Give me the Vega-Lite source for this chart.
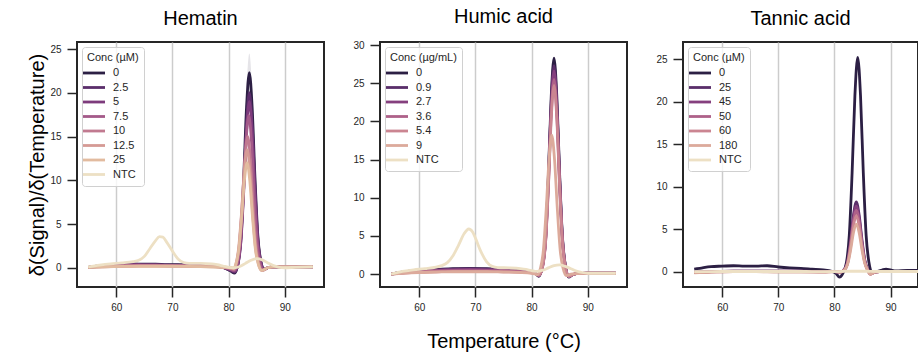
{
  "$schema": "https://vega.github.io/schema/vega-lite/v6.json",
  "padding": {"left": 26, "top": 6, "right": 0, "bottom": 0},
  "background": "white",
  "config": {
    "font": "Liberation Sans",
    "view": {"stroke": "#262626", "strokeWidth": 2},
    "axis": {"domain": false, "tickColor": "#262626", "tickWidth": 1.5, "tickSize": 10, "labelFontSize": 10, "labelColor": "#262626", "titleFontSize": 20, "titleFontWeight": "normal", "titleColor": "#000000", "grid": false},
    "axisX": {"grid": true, "gridColor": "#cccccc", "gridWidth": 1.5, "labelPadding": 5},
    "axisY": {"labelPadding": 6},
    "legend": {"orient": "top-left", "offset": 5, "fillColor": "rgba(255,255,255,0.8)", "strokeColor": "#d0d0d0", "cornerRadius": 3, "padding": 5, "titleFontSize": 11, "titleFontWeight": "normal", "titleColor": "#262626", "labelFontSize": 11, "labelColor": "#262626", "symbolType": "M-2,0H2", "symbolSize": 121, "symbolStrokeWidth": 3, "rowPadding": 1.5, "labelOffset": 12, "titlePadding": 3},
    "title": {"fontSize": 20, "fontWeight": "normal", "color": "#000000", "offset": 13, "anchor": "middle"},
    "line": {"strokeWidth": 2.8, "interpolate": "monotone"}
  },
  "datasets": {
    "hb": [
      {"t":81.7,"lo":0.4,"hi":0.9},{"t":82.2,"lo":3.0,"hi":4.2},{"t":82.7,"lo":9.0,"hi":11.6},{"t":83.2,"lo":16.3,"hi":20.3},{"t":83.7,"lo":20.1,"hi":24.5},{"t":84.2,"lo":16.3,"hi":20.3},{"t":84.7,"lo":9.0,"hi":11.6},{"t":85.2,"lo":3.2,"hi":4.4},{"t":85.7,"lo":0.5,"hi":1.3},{"t":86.3,"lo":-0.5,"hi":0.1}
    ],
    "h": [
      {"c":"0","t":55,"v":0.05},{"c":"0","t":57,"v":0.2},{"c":"0","t":59,"v":0.3},{"c":"0","t":61,"v":0.35},{"c":"0","t":63,"v":0.45},{"c":"0","t":65,"v":0.4},{"c":"0","t":67,"v":0.4},{"c":"0","t":69,"v":0.35},{"c":"0","t":71,"v":0.35},{"c":"0","t":73,"v":0.3},{"c":"0","t":75,"v":0.3},{"c":"0","t":77,"v":0.25},{"c":"0","t":79,"v":0.05},{"c":"0","t":80.3,"v":-0.35},{"c":"0","t":81.1,"v":-0.6},{"c":"0","t":81.7,"v":0.6},{"c":"0","t":82.2,"v":3.6},{"c":"0","t":82.7,"v":10.3},{"c":"0","t":83.2,"v":18.3},{"c":"0","t":83.7,"v":22.3},{"c":"0","t":84.2,"v":18.3},{"c":"0","t":84.7,"v":10.3},{"c":"0","t":85.2,"v":3.8},{"c":"0","t":85.7,"v":0.9},{"c":"0","t":86.3,"v":-0.2},{"c":"0","t":87,"v":0.0},{"c":"0","t":88,"v":0.1},{"c":"0","t":90,"v":0.1},{"c":"0","t":92,"v":0.1},{"c":"0","t":95,"v":0.1},
      {"c":"2.5","t":55,"v":0.05},{"c":"2.5","t":57,"v":0.2},{"c":"2.5","t":59,"v":0.3},{"c":"2.5","t":61,"v":0.3},{"c":"2.5","t":63,"v":0.4},{"c":"2.5","t":65,"v":0.35},{"c":"2.5","t":67,"v":0.35},{"c":"2.5","t":69,"v":0.3},{"c":"2.5","t":71,"v":0.3},{"c":"2.5","t":73,"v":0.3},{"c":"2.5","t":75,"v":0.25},{"c":"2.5","t":77,"v":0.2},{"c":"2.5","t":79,"v":0.05},{"c":"2.5","t":80.3,"v":-0.3},{"c":"2.5","t":81.1,"v":-0.5},{"c":"2.5","t":81.7,"v":0.5},{"c":"2.5","t":82.2,"v":3.2},{"c":"2.5","t":82.7,"v":9.2},{"c":"2.5","t":83.2,"v":16.4},{"c":"2.5","t":83.7,"v":20.0},{"c":"2.5","t":84.2,"v":16.4},{"c":"2.5","t":84.7,"v":9.2},{"c":"2.5","t":85.2,"v":3.4},{"c":"2.5","t":85.7,"v":0.8},{"c":"2.5","t":86.3,"v":-0.2},{"c":"2.5","t":87,"v":0.0},{"c":"2.5","t":88,"v":0.1},{"c":"2.5","t":95,"v":0.1},
      {"c":"5","t":55,"v":0.05},{"c":"5","t":57,"v":0.15},{"c":"5","t":59,"v":0.25},{"c":"5","t":61,"v":0.3},{"c":"5","t":63,"v":0.35},{"c":"5","t":65,"v":0.3},{"c":"5","t":67,"v":0.3},{"c":"5","t":69,"v":0.3},{"c":"5","t":71,"v":0.25},{"c":"5","t":73,"v":0.25},{"c":"5","t":75,"v":0.25},{"c":"5","t":77,"v":0.2},{"c":"5","t":79,"v":0.05},{"c":"5","t":80.3,"v":-0.2},{"c":"5","t":81.1,"v":-0.4},{"c":"5","t":81.7,"v":0.5},{"c":"5","t":82.2,"v":3.0},{"c":"5","t":82.7,"v":8.7},{"c":"5","t":83.2,"v":15.6},{"c":"5","t":83.7,"v":19.0},{"c":"5","t":84.2,"v":15.6},{"c":"5","t":84.7,"v":8.7},{"c":"5","t":85.2,"v":3.2},{"c":"5","t":85.7,"v":0.7},{"c":"5","t":86.3,"v":-0.2},{"c":"5","t":87,"v":0.0},{"c":"5","t":88,"v":0.1},{"c":"5","t":95,"v":0.1},
      {"c":"7.5","t":55,"v":0.05},{"c":"7.5","t":58,"v":0.2},{"c":"7.5","t":61,"v":0.25},{"c":"7.5","t":64,"v":0.3},{"c":"7.5","t":67,"v":0.3},{"c":"7.5","t":70,"v":0.25},{"c":"7.5","t":73,"v":0.25},{"c":"7.5","t":76,"v":0.2},{"c":"7.5","t":79,"v":0.05},{"c":"7.5","t":80.3,"v":-0.15},{"c":"7.5","t":81.0,"v":-0.3},{"c":"7.5","t":81.6,"v":0.5},{"c":"7.5","t":82.1,"v":2.9},{"c":"7.5","t":82.6,"v":8.0},{"c":"7.5","t":83.1,"v":14.3},{"c":"7.5","t":83.6,"v":17.4},{"c":"7.5","t":84.1,"v":14.3},{"c":"7.5","t":84.6,"v":8.0},{"c":"7.5","t":85.1,"v":3.0},{"c":"7.5","t":85.6,"v":0.6},{"c":"7.5","t":86.2,"v":-0.25},{"c":"7.5","t":87,"v":0.0},{"c":"7.5","t":88,"v":0.1},{"c":"7.5","t":95,"v":0.1},
      {"c":"10","t":55,"v":0.05},{"c":"10","t":58,"v":0.15},{"c":"10","t":61,"v":0.2},{"c":"10","t":64,"v":0.25},{"c":"10","t":67,"v":0.25},{"c":"10","t":70,"v":0.2},{"c":"10","t":73,"v":0.2},{"c":"10","t":76,"v":0.2},{"c":"10","t":79,"v":0.05},{"c":"10","t":80.5,"v":-0.1},{"c":"10","t":81.0,"v":-0.2},{"c":"10","t":81.4,"v":0.4},{"c":"10","t":81.9,"v":2.5},{"c":"10","t":82.4,"v":6.9},{"c":"10","t":82.9,"v":12.3},{"c":"10","t":83.4,"v":15.0},{"c":"10","t":83.9,"v":12.3},{"c":"10","t":84.4,"v":6.9},{"c":"10","t":84.9,"v":2.6},{"c":"10","t":85.4,"v":0.5},{"c":"10","t":86.0,"v":-0.3},{"c":"10","t":87,"v":0.0},{"c":"10","t":88,"v":0.1},{"c":"10","t":95,"v":0.1},
      {"c":"12.5","t":55,"v":0.05},{"c":"12.5","t":58,"v":0.1},{"c":"12.5","t":61,"v":0.15},{"c":"12.5","t":64,"v":0.2},{"c":"12.5","t":67,"v":0.2},{"c":"12.5","t":70,"v":0.2},{"c":"12.5","t":73,"v":0.15},{"c":"12.5","t":76,"v":0.15},{"c":"12.5","t":79,"v":0.05},{"c":"12.5","t":80.5,"v":-0.05},{"c":"12.5","t":80.9,"v":-0.1},{"c":"12.5","t":81.3,"v":0.4},{"c":"12.5","t":81.8,"v":2.3},{"c":"12.5","t":82.3,"v":6.2},{"c":"12.5","t":82.8,"v":11.1},{"c":"12.5","t":83.3,"v":13.5},{"c":"12.5","t":83.8,"v":11.1},{"c":"12.5","t":84.3,"v":6.2},{"c":"12.5","t":84.8,"v":2.3},{"c":"12.5","t":85.3,"v":0.5},{"c":"12.5","t":85.9,"v":-0.3},{"c":"12.5","t":87,"v":0.0},{"c":"12.5","t":88,"v":0.1},{"c":"12.5","t":95,"v":0.1},
      {"c":"25","t":55,"v":0.05},{"c":"25","t":58,"v":0.1},{"c":"25","t":61,"v":0.15},{"c":"25","t":64,"v":0.15},{"c":"25","t":67,"v":0.15},{"c":"25","t":70,"v":0.15},{"c":"25","t":73,"v":0.15},{"c":"25","t":76,"v":0.1},{"c":"25","t":79,"v":0.05},{"c":"25","t":80.5,"v":0.0},{"c":"25","t":80.9,"v":-0.05},{"c":"25","t":81.3,"v":0.4},{"c":"25","t":81.8,"v":2.0},{"c":"25","t":82.3,"v":5.5},{"c":"25","t":82.8,"v":9.8},{"c":"25","t":83.3,"v":12.0},{"c":"25","t":83.8,"v":9.8},{"c":"25","t":84.3,"v":5.5},{"c":"25","t":84.8,"v":2.0},{"c":"25","t":85.3,"v":0.4},{"c":"25","t":85.9,"v":-0.3},{"c":"25","t":87,"v":0.0},{"c":"25","t":88,"v":0.1},{"c":"25","t":95,"v":0.1},
      {"c":"NTC","t":55,"v":0.1},{"c":"NTC","t":57,"v":0.3},{"c":"NTC","t":59,"v":0.45},{"c":"NTC","t":61,"v":0.55},{"c":"NTC","t":63,"v":0.7},{"c":"NTC","t":64,"v":0.85},{"c":"NTC","t":65,"v":1.3},{"c":"NTC","t":66,"v":2.2},{"c":"NTC","t":67,"v":3.1},{"c":"NTC","t":67.7,"v":3.55},{"c":"NTC","t":68.3,"v":3.5},{"c":"NTC","t":69,"v":2.9},{"c":"NTC","t":70,"v":1.9},{"c":"NTC","t":71,"v":1.0},{"c":"NTC","t":72,"v":0.6},{"c":"NTC","t":73,"v":0.5},{"c":"NTC","t":75,"v":0.5},{"c":"NTC","t":77,"v":0.45},{"c":"NTC","t":78,"v":0.35},{"c":"NTC","t":79,"v":0.2},{"c":"NTC","t":80,"v":0.05},{"c":"NTC","t":81,"v":0.0},{"c":"NTC","t":82,"v":0.15},{"c":"NTC","t":83,"v":0.5},{"c":"NTC","t":84,"v":0.85},{"c":"NTC","t":85,"v":1.05},{"c":"NTC","t":86,"v":0.9},{"c":"NTC","t":87,"v":0.55},{"c":"NTC","t":88,"v":0.25},{"c":"NTC","t":89,"v":0.05},{"c":"NTC","t":90,"v":0.0},{"c":"NTC","t":92,"v":0.05},{"c":"NTC","t":95,"v":0.1}
    ],
    "u": [
      {"c":"0","t":55,"v":0.0},{"c":"0","t":57,"v":0.25},{"c":"0","t":60,"v":0.5},{"c":"0","t":63,"v":0.6},{"c":"0","t":66,"v":0.7},{"c":"0","t":69,"v":0.75},{"c":"0","t":72,"v":0.7},{"c":"0","t":75,"v":0.6},{"c":"0","t":78,"v":0.5},{"c":"0","t":80,"v":0.35},{"c":"0","t":80.8,"v":0.0},{"c":"0","t":81.3,"v":-0.3},{"c":"0","t":82.0,"v":1.3},{"c":"0","t":82.5,"v":4.8},{"c":"0","t":83.0,"v":13.0},{"c":"0","t":83.5,"v":23.2},{"c":"0","t":84.0,"v":28.3},{"c":"0","t":84.5,"v":23.2},{"c":"0","t":85.0,"v":13.0},{"c":"0","t":85.5,"v":4.8},{"c":"0","t":86.0,"v":1.2},{"c":"0","t":86.6,"v":-0.4},{"c":"0","t":87.3,"v":-0.1},{"c":"0","t":88,"v":0.05},{"c":"0","t":90,"v":0.1},{"c":"0","t":95,"v":0.1},
      {"c":"0.9","t":55,"v":0.0},{"c":"0.9","t":57,"v":0.25},{"c":"0.9","t":60,"v":0.45},{"c":"0.9","t":63,"v":0.55},{"c":"0.9","t":66,"v":0.65},{"c":"0.9","t":69,"v":0.7},{"c":"0.9","t":72,"v":0.65},{"c":"0.9","t":75,"v":0.55},{"c":"0.9","t":78,"v":0.45},{"c":"0.9","t":80,"v":0.3},{"c":"0.9","t":80.8,"v":0.0},{"c":"0.9","t":81.3,"v":-0.25},{"c":"0.9","t":82.0,"v":1.2},{"c":"0.9","t":82.5,"v":4.6},{"c":"0.9","t":83.0,"v":12.6},{"c":"0.9","t":83.5,"v":22.4},{"c":"0.9","t":84.0,"v":27.3},{"c":"0.9","t":84.5,"v":22.4},{"c":"0.9","t":85.0,"v":12.6},{"c":"0.9","t":85.5,"v":4.6},{"c":"0.9","t":86.0,"v":1.1},{"c":"0.9","t":86.6,"v":-0.35},{"c":"0.9","t":87.3,"v":-0.1},{"c":"0.9","t":88,"v":0.05},{"c":"0.9","t":90,"v":0.1},{"c":"0.9","t":95,"v":0.1},
      {"c":"2.7","t":55,"v":0.0},{"c":"2.7","t":57,"v":0.2},{"c":"2.7","t":60,"v":0.4},{"c":"2.7","t":63,"v":0.5},{"c":"2.7","t":66,"v":0.55},{"c":"2.7","t":69,"v":0.6},{"c":"2.7","t":72,"v":0.55},{"c":"2.7","t":75,"v":0.5},{"c":"2.7","t":78,"v":0.4},{"c":"2.7","t":80,"v":0.25},{"c":"2.7","t":80.8,"v":0.0},{"c":"2.7","t":81.3,"v":-0.2},{"c":"2.7","t":82.0,"v":1.2},{"c":"2.7","t":82.5,"v":4.5},{"c":"2.7","t":83.0,"v":12.2},{"c":"2.7","t":83.5,"v":21.8},{"c":"2.7","t":84.0,"v":26.6},{"c":"2.7","t":84.5,"v":21.8},{"c":"2.7","t":85.0,"v":12.2},{"c":"2.7","t":85.5,"v":4.5},{"c":"2.7","t":86.0,"v":1.1},{"c":"2.7","t":86.6,"v":-0.35},{"c":"2.7","t":87.3,"v":-0.1},{"c":"2.7","t":88,"v":0.05},{"c":"2.7","t":90,"v":0.1},{"c":"2.7","t":95,"v":0.1},
      {"c":"3.6","t":55,"v":0.0},{"c":"3.6","t":57,"v":0.15},{"c":"3.6","t":60,"v":0.3},{"c":"3.6","t":63,"v":0.4},{"c":"3.6","t":66,"v":0.45},{"c":"3.6","t":69,"v":0.45},{"c":"3.6","t":72,"v":0.45},{"c":"3.6","t":75,"v":0.4},{"c":"3.6","t":78,"v":0.3},{"c":"3.6","t":80,"v":0.2},{"c":"3.6","t":80.8,"v":0.0},{"c":"3.6","t":81.3,"v":-0.2},{"c":"3.6","t":82.0,"v":1.1},{"c":"3.6","t":82.5,"v":4.3},{"c":"3.6","t":83.0,"v":11.7},{"c":"3.6","t":83.5,"v":20.9},{"c":"3.6","t":84.0,"v":25.5},{"c":"3.6","t":84.5,"v":20.9},{"c":"3.6","t":85.0,"v":11.7},{"c":"3.6","t":85.5,"v":4.3},{"c":"3.6","t":86.0,"v":1.0},{"c":"3.6","t":86.6,"v":-0.3},{"c":"3.6","t":87.3,"v":-0.1},{"c":"3.6","t":88,"v":0.05},{"c":"3.6","t":90,"v":0.1},{"c":"3.6","t":95,"v":0.1},
      {"c":"5.4","t":55,"v":0.0},{"c":"5.4","t":57,"v":0.1},{"c":"5.4","t":60,"v":0.25},{"c":"5.4","t":63,"v":0.3},{"c":"5.4","t":66,"v":0.35},{"c":"5.4","t":69,"v":0.35},{"c":"5.4","t":72,"v":0.35},{"c":"5.4","t":75,"v":0.3},{"c":"5.4","t":78,"v":0.25},{"c":"5.4","t":80,"v":0.15},{"c":"5.4","t":80.8,"v":0.0},{"c":"5.4","t":81.3,"v":-0.15},{"c":"5.4","t":82.0,"v":1.1},{"c":"5.4","t":82.5,"v":4.2},{"c":"5.4","t":83.0,"v":11.4},{"c":"5.4","t":83.5,"v":20.3},{"c":"5.4","t":84.0,"v":24.7},{"c":"5.4","t":84.5,"v":20.3},{"c":"5.4","t":85.0,"v":11.4},{"c":"5.4","t":85.5,"v":4.2},{"c":"5.4","t":86.0,"v":1.0},{"c":"5.4","t":86.6,"v":-0.3},{"c":"5.4","t":87.3,"v":-0.1},{"c":"5.4","t":88,"v":0.05},{"c":"5.4","t":90,"v":0.1},{"c":"5.4","t":95,"v":0.1},
      {"c":"9","t":55,"v":0.0},{"c":"9","t":57,"v":0.1},{"c":"9","t":60,"v":0.2},{"c":"9","t":63,"v":0.25},{"c":"9","t":66,"v":0.3},{"c":"9","t":69,"v":0.3},{"c":"9","t":72,"v":0.3},{"c":"9","t":75,"v":0.25},{"c":"9","t":78,"v":0.2},{"c":"9","t":80,"v":0.1},{"c":"9","t":80.6,"v":0.0},{"c":"9","t":81.0,"v":-0.1},{"c":"9","t":81.6,"v":0.8},{"c":"9","t":82.1,"v":3.1},{"c":"9","t":82.6,"v":8.4},{"c":"9","t":83.1,"v":14.9},{"c":"9","t":83.6,"v":18.2},{"c":"9","t":84.1,"v":14.9},{"c":"9","t":84.6,"v":8.4},{"c":"9","t":85.1,"v":3.1},{"c":"9","t":85.6,"v":0.8},{"c":"9","t":86.2,"v":-0.2},{"c":"9","t":87,"v":0.0},{"c":"9","t":88,"v":0.05},{"c":"9","t":90,"v":0.1},{"c":"9","t":95,"v":0.1},
      {"c":"NTC","t":55,"v":0.0},{"c":"NTC","t":57,"v":0.35},{"c":"NTC","t":59,"v":0.55},{"c":"NTC","t":61,"v":0.7},{"c":"NTC","t":63,"v":0.9},{"c":"NTC","t":64,"v":1.1},{"c":"NTC","t":65,"v":1.5},{"c":"NTC","t":66,"v":2.4},{"c":"NTC","t":67,"v":3.8},{"c":"NTC","t":68,"v":5.3},{"c":"NTC","t":68.8,"v":5.9},{"c":"NTC","t":69.5,"v":5.5},{"c":"NTC","t":70,"v":4.7},{"c":"NTC","t":71,"v":2.9},{"c":"NTC","t":72,"v":1.6},{"c":"NTC","t":73,"v":1.0},{"c":"NTC","t":74,"v":0.85},{"c":"NTC","t":76,"v":0.8},{"c":"NTC","t":78,"v":0.7},{"c":"NTC","t":79,"v":0.6},{"c":"NTC","t":80,"v":0.45},{"c":"NTC","t":81,"v":0.35},{"c":"NTC","t":82,"v":0.5},{"c":"NTC","t":83,"v":0.8},{"c":"NTC","t":84,"v":1.1},{"c":"NTC","t":85,"v":1.2},{"c":"NTC","t":86,"v":1.0},{"c":"NTC","t":87,"v":0.7},{"c":"NTC","t":88,"v":0.4},{"c":"NTC","t":89,"v":0.2},{"c":"NTC","t":90,"v":0.1},{"c":"NTC","t":92,"v":0.1},{"c":"NTC","t":95,"v":0.1}
    ],
    "n": [
      {"c":"0","t":55,"v":0.3},{"c":"0","t":56,"v":0.4},{"c":"0","t":58,"v":0.6},{"c":"0","t":60,"v":0.65},{"c":"0","t":62,"v":0.7},{"c":"0","t":64,"v":0.65},{"c":"0","t":66,"v":0.65},{"c":"0","t":68,"v":0.7},{"c":"0","t":70,"v":0.55},{"c":"0","t":72,"v":0.45},{"c":"0","t":74,"v":0.4},{"c":"0","t":76,"v":0.3},{"c":"0","t":78,"v":0.2},{"c":"0","t":79.5,"v":0.05},{"c":"0","t":80.3,"v":-0.2},{"c":"0","t":80.9,"v":-0.65},{"c":"0","t":81.5,"v":-0.2},{"c":"0","t":82.15,"v":1.1},{"c":"0","t":82.65,"v":4.3},{"c":"0","t":83.15,"v":11.6},{"c":"0","t":83.65,"v":20.7},{"c":"0","t":84.15,"v":25.2},{"c":"0","t":84.65,"v":20.7},{"c":"0","t":85.15,"v":11.6},{"c":"0","t":85.65,"v":4.3},{"c":"0","t":86.15,"v":1.1},{"c":"0","t":86.7,"v":-0.1},{"c":"0","t":87.5,"v":0.0},{"c":"0","t":88.5,"v":0.2},{"c":"0","t":89.2,"v":0.3},{"c":"0","t":90,"v":0.2},{"c":"0","t":91,"v":0.1},{"c":"0","t":93,"v":0.15},{"c":"0","t":95,"v":0.15},
      {"c":"25","t":55,"v":-0.05},{"c":"25","t":58,"v":0.0},{"c":"25","t":62,"v":0.05},{"c":"25","t":66,"v":0.05},{"c":"25","t":70,"v":0.05},{"c":"25","t":74,"v":0.05},{"c":"25","t":78,"v":0.0},{"c":"25","t":80,"v":0.0},{"c":"25","t":81.0,"v":-0.05},{"c":"25","t":81.9,"v":0.4},{"c":"25","t":82.4,"v":1.4},{"c":"25","t":82.9,"v":3.8},{"c":"25","t":83.4,"v":6.7},{"c":"25","t":83.9,"v":8.2},{"c":"25","t":84.4,"v":6.7},{"c":"25","t":84.9,"v":3.8},{"c":"25","t":85.4,"v":1.4},{"c":"25","t":85.9,"v":0.3},{"c":"25","t":86.4,"v":-0.25},{"c":"25","t":87.2,"v":-0.05},{"c":"25","t":88,"v":0.0},{"c":"25","t":95,"v":0.0},
      {"c":"45","t":55,"v":-0.05},{"c":"45","t":58,"v":0.0},{"c":"45","t":62,"v":0.05},{"c":"45","t":66,"v":0.05},{"c":"45","t":70,"v":0.05},{"c":"45","t":74,"v":0.05},{"c":"45","t":78,"v":0.0},{"c":"45","t":80,"v":0.0},{"c":"45","t":81.0,"v":-0.05},{"c":"45","t":81.9,"v":0.35},{"c":"45","t":82.4,"v":1.3},{"c":"45","t":82.9,"v":3.5},{"c":"45","t":83.4,"v":6.3},{"c":"45","t":83.9,"v":7.7},{"c":"45","t":84.4,"v":6.3},{"c":"45","t":84.9,"v":3.5},{"c":"45","t":85.4,"v":1.3},{"c":"45","t":85.9,"v":0.3},{"c":"45","t":86.4,"v":-0.25},{"c":"45","t":87.2,"v":-0.05},{"c":"45","t":88,"v":0.0},{"c":"45","t":95,"v":0.0},
      {"c":"50","t":55,"v":-0.1},{"c":"50","t":58,"v":0.0},{"c":"50","t":62,"v":0.0},{"c":"50","t":66,"v":0.0},{"c":"50","t":70,"v":0.0},{"c":"50","t":74,"v":0.0},{"c":"50","t":78,"v":0.0},{"c":"50","t":80,"v":0.0},{"c":"50","t":81.0,"v":-0.05},{"c":"50","t":81.9,"v":0.3},{"c":"50","t":82.4,"v":1.2},{"c":"50","t":82.9,"v":3.3},{"c":"50","t":83.4,"v":5.9},{"c":"50","t":83.9,"v":7.2},{"c":"50","t":84.4,"v":5.9},{"c":"50","t":84.9,"v":3.3},{"c":"50","t":85.4,"v":1.2},{"c":"50","t":85.9,"v":0.25},{"c":"50","t":86.4,"v":-0.3},{"c":"50","t":87.2,"v":-0.05},{"c":"50","t":88,"v":0.0},{"c":"50","t":95,"v":0.0},
      {"c":"60","t":55,"v":-0.1},{"c":"60","t":58,"v":-0.05},{"c":"60","t":62,"v":0.0},{"c":"60","t":66,"v":0.0},{"c":"60","t":70,"v":0.0},{"c":"60","t":74,"v":0.0},{"c":"60","t":78,"v":-0.05},{"c":"60","t":80,"v":0.0},{"c":"60","t":81.0,"v":-0.05},{"c":"60","t":81.9,"v":0.3},{"c":"60","t":82.4,"v":1.1},{"c":"60","t":82.9,"v":3.0},{"c":"60","t":83.4,"v":5.4},{"c":"60","t":83.9,"v":6.6},{"c":"60","t":84.4,"v":5.4},{"c":"60","t":84.9,"v":3.0},{"c":"60","t":85.4,"v":1.1},{"c":"60","t":85.9,"v":0.2},{"c":"60","t":86.4,"v":-0.3},{"c":"60","t":87.2,"v":-0.05},{"c":"60","t":88,"v":0.0},{"c":"60","t":95,"v":0.0},
      {"c":"180","t":55,"v":-0.15},{"c":"180","t":58,"v":-0.05},{"c":"180","t":62,"v":0.0},{"c":"180","t":66,"v":0.0},{"c":"180","t":70,"v":-0.05},{"c":"180","t":74,"v":-0.05},{"c":"180","t":78,"v":-0.05},{"c":"180","t":80,"v":0.0},{"c":"180","t":81.0,"v":-0.05},{"c":"180","t":81.9,"v":0.25},{"c":"180","t":82.4,"v":1.0},{"c":"180","t":82.9,"v":2.6},{"c":"180","t":83.4,"v":4.6},{"c":"180","t":83.9,"v":5.6},{"c":"180","t":84.4,"v":4.6},{"c":"180","t":84.9,"v":2.6},{"c":"180","t":85.4,"v":1.0},{"c":"180","t":85.9,"v":0.2},{"c":"180","t":86.4,"v":-0.3},{"c":"180","t":87.2,"v":-0.05},{"c":"180","t":88,"v":0.0},{"c":"180","t":95,"v":0.0},
      {"c":"NTC","t":55,"v":0.0},{"c":"NTC","t":60,"v":0.02},{"c":"NTC","t":65,"v":0.02},{"c":"NTC","t":70,"v":0.02},{"c":"NTC","t":75,"v":0.02},{"c":"NTC","t":80,"v":0.0},{"c":"NTC","t":83,"v":0.05},{"c":"NTC","t":85,"v":0.05},{"c":"NTC","t":88,"v":0.02},{"c":"NTC","t":95,"v":0.02}
    ]
  },
  "spacing": 56,
  "bounds": "flush",
  "resolve": {"scale": {"color": "independent", "x": "independent", "y": "independent"}, "legend": {"color": "independent"}},
  "hconcat": [
    {
      "title": "Hematin",
      "width": 247, "height": 245,
      "layer": [
        {
          "data": {"name": "hb"},
          "mark": {"type": "area", "color": "#2c1f44", "opacity": 0.12, "interpolate": "monotone"},
          "encoding": {
            "x": {"field": "t", "type": "quantitative"},
            "y": {"field": "lo", "type": "quantitative"},
            "y2": {"field": "hi"}
          }
        },
        {
          "data": {"name": "h"},
          "mark": {"type": "line"},
          "encoding": {
            "x": {"field": "t", "type": "quantitative", "scale": {"domain": [53, 97], "nice": false, "zero": false}, "axis": {"title": null, "values": [60, 70, 80, 90]}},
            "y": {"field": "v", "type": "quantitative", "scale": {"domain": [-2.2, 25.8], "nice": false, "zero": false}, "axis": {"values": [0, 5, 10, 15, 20, 25], "title": "δ(Signal)/δ(Temperature)", "titlePadding": 2}},
            "color": {"field": "c", "type": "nominal", "scale": {"domain": ["0", "2.5", "5", "7.5", "10", "12.5", "25", "NTC"], "range": ["#2c1f44", "#5b2e6b", "#7d3b7c", "#a45a89", "#c17a90", "#d59a95", "#e2bb9f", "#ede0c4"]}, "legend": {"title": "Conc (µM)"}}
          }
        }
      ]
    },
    {
      "title": "Humic acid",
      "width": 247, "height": 245,
      "data": {"name": "u"},
      "mark": {"type": "line"},
      "encoding": {
        "x": {"field": "t", "type": "quantitative", "scale": {"domain": [53, 97], "nice": false, "zero": false}, "axis": {"title": "Temperature (°C)", "titlePadding": 19, "values": [60, 70, 80, 90]}},
        "y": {"field": "v", "type": "quantitative", "scale": {"domain": [-1.7, 30.4], "nice": false, "zero": false}, "axis": {"values": [0, 5, 10, 15, 20, 25, 30], "title": null}},
        "color": {"field": "c", "type": "nominal", "scale": {"domain": ["0", "0.9", "2.7", "3.6", "5.4", "9", "NTC"], "range": ["#2c1f44", "#5a2e6a", "#853f7e", "#ae6189", "#cb8591", "#dcaa9b", "#ede0c4"]}, "legend": {"title": "Conc (µg/mL)"}}
      }
    },
    {
      "title": "Tannic acid",
      "width": 235, "height": 245,
      "data": {"name": "n"},
      "mark": {"type": "line"},
      "encoding": {
        "x": {"field": "t", "type": "quantitative", "scale": {"domain": [53, 94.9], "nice": false, "zero": false}, "axis": {"title": null, "values": [60, 70, 80, 90]}},
        "y": {"field": "v", "type": "quantitative", "scale": {"domain": [-1.8, 27.0], "nice": false, "zero": false}, "axis": {"values": [0, 5, 10, 15, 20, 25], "title": null}},
        "color": {"field": "c", "type": "nominal", "scale": {"domain": ["0", "25", "45", "50", "60", "180", "NTC"], "range": ["#2c1f44", "#5a2e6a", "#853f7e", "#ae6189", "#cb8591", "#dcaa9b", "#ede0c4"]}, "legend": {"title": "Conc (µM)"}}
      }
    }
  ]
}
